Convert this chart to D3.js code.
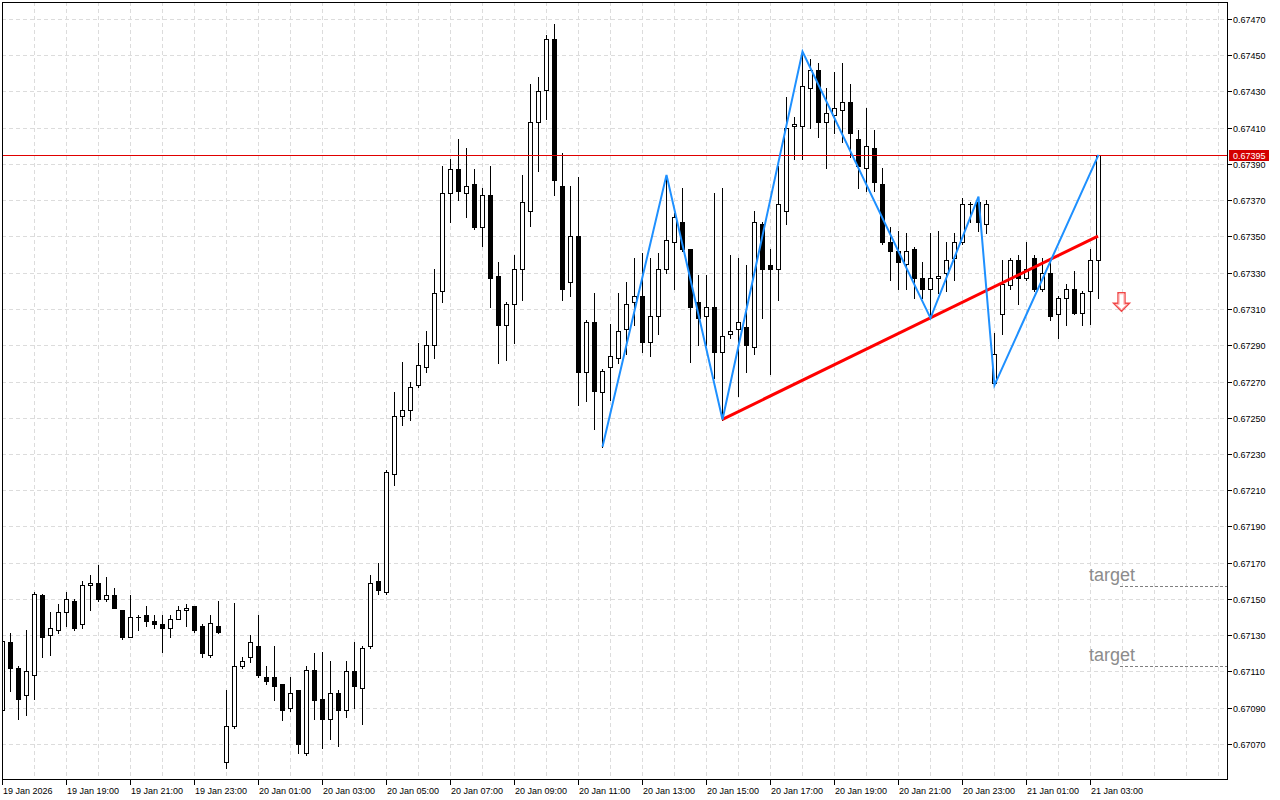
<!DOCTYPE html>
<html><head><meta charset="utf-8">
<script src="https://cdn.jsdelivr.net/npm/d3@7"></script>
<style>html,body{margin:0;padding:0;background:#fff;} svg{display:block;}</style>
</head><body>
<svg id="chart" width="1280" height="800"></svg>
<script>
// ---- data (15-minute bars, bar 0 = 19 Jan 17:00) ----
const openP = [
0.67089,0.67126,0.67112,0.67097,0.67108,0.67152,0.67130,0.67133,0.67143,0.67149,
0.67136,0.67158,0.67159,0.67150,0.67152,0.67144,0.67129,0.67140,0.67141,0.67138,
0.67136,0.67134,0.67139,0.67144,0.67146,0.67135,0.67119,0.67135,0.67060,0.67080,
0.67113,0.67118,0.67124,0.67107,0.67107,0.67103,0.67090,0.67100,0.67065,0.67111,
0.67095,0.67084,0.67098,0.67089,0.67110,0.67101,0.67124,0.67160,0.67154,0.67219,
0.67251,0.67254,0.67268,0.67278,0.67290,0.67320,0.67374,0.67387,0.67374,0.67379,
0.67355,0.67373,0.67328,0.67301,0.67313,0.67332,0.67364,0.67413,0.67431,0.67459,
0.67378,0.67325,0.67350,0.67275,0.67303,0.67264,0.67278,0.67283,0.67299,0.67314,
0.67317,0.67292,0.67306,0.67332,0.67347,0.67358,0.67343,0.67314,0.67306,0.67311,
0.67286,0.67296,0.67299,0.67300,0.67289,0.67357,0.67334,0.67332,0.67364,0.67411,
0.67411,0.67432,0.67442,0.67413,0.67417,0.67420,0.67424,0.67404,0.67388,0.67399,
0.67379,0.67347,0.67342,0.67335,0.67343,0.67327,0.67321,0.67327,0.67330,0.67338,
0.67347,0.67368,0.67369,0.67357,0.67269,0.67307,0.67323,0.67337,0.67327,0.67338,
0.67321,0.67330,0.67307,0.67316,0.67321,0.67308,0.67320,0.67337];
const highP = [
0.67130,0.67131,0.67113,0.67133,0.67154,0.67153,0.67143,0.67147,0.67154,0.67150,
0.67160,0.67163,0.67169,0.67162,0.67156,0.67144,0.67152,0.67141,0.67146,0.67141,
0.67141,0.67141,0.67146,0.67147,0.67146,0.67136,0.67141,0.67149,0.67100,0.67148,
0.67118,0.67130,0.67141,0.67113,0.67124,0.67103,0.67107,0.67100,0.67113,0.67120,
0.67121,0.67116,0.67100,0.67116,0.67126,0.67124,0.67163,0.67170,0.67221,0.67264,
0.67281,0.67270,0.67291,0.67298,0.67332,0.67389,0.67393,0.67404,0.67399,0.67387,
0.67377,0.67389,0.67336,0.67314,0.67340,0.67384,0.67434,0.67438,0.67461,0.67467,
0.67396,0.67378,0.67383,0.67304,0.67319,0.67277,0.67302,0.67319,0.67325,0.67338,
0.67341,0.67338,0.67341,0.67384,0.67363,0.67377,0.67343,0.67329,0.67329,0.67374,
0.67377,0.67340,0.67338,0.67334,0.67364,0.67358,0.67343,0.67389,0.67427,0.67416,
0.67452,0.67448,0.67446,0.67432,0.67441,0.67446,0.67434,0.67409,0.67421,0.67409,
0.67388,0.67355,0.67353,0.67352,0.67344,0.67336,0.67352,0.67353,0.67347,0.67352,
0.67371,0.67369,0.67372,0.67370,0.67297,0.67337,0.67338,0.67340,0.67347,0.67340,
0.67338,0.67338,0.67317,0.67324,0.67331,0.67320,0.67343,0.67395];
const lowP = [
0.67088,0.67099,0.67084,0.67086,0.67095,0.67118,0.67119,0.67131,0.67135,0.67133,
0.67134,0.67144,0.67149,0.67149,0.67145,0.67128,0.67129,0.67133,0.67135,0.67134,
0.67121,0.67129,0.67139,0.67135,0.67132,0.67118,0.67118,0.67131,0.67057,0.67079,
0.67112,0.67115,0.67107,0.67103,0.67094,0.67083,0.67088,0.67065,0.67064,0.67084,
0.67068,0.67073,0.67069,0.67085,0.67090,0.67081,0.67123,0.67153,0.67153,0.67213,
0.67246,0.67249,0.67267,0.67275,0.67283,0.67314,0.67358,0.67370,0.67361,0.67354,
0.67345,0.67311,0.67280,0.67282,0.67291,0.67315,0.67356,0.67386,0.67415,0.67373,
0.67315,0.67317,0.67257,0.67259,0.67244,0.67234,0.67260,0.67280,0.67285,0.67301,
0.67286,0.67284,0.67296,0.67330,0.67321,0.67342,0.67281,0.67290,0.67290,0.67272,
0.67249,0.67294,0.67262,0.67275,0.67285,0.67305,0.67274,0.67315,0.67357,0.67393,
0.67393,0.67410,0.67405,0.67388,0.67407,0.67402,0.67394,0.67377,0.67375,0.67375,
0.67346,0.67326,0.67321,0.67321,0.67316,0.67316,0.67305,0.67319,0.67320,0.67326,
0.67346,0.67358,0.67353,0.67352,0.67268,0.67296,0.67321,0.67313,0.67326,0.67320,
0.67320,0.67304,0.67294,0.67301,0.67307,0.67301,0.67302,0.67316];
const closeP = [
0.67127,0.67112,0.67095,0.67110,0.67153,0.67129,0.67134,0.67143,0.67150,0.67134,
0.67158,0.67159,0.67150,0.67152,0.67145,0.67129,0.67140,0.67140,0.67138,0.67136,
0.67134,0.67139,0.67144,0.67145,0.67133,0.67120,0.67137,0.67132,0.67080,0.67113,
0.67116,0.67126,0.67108,0.67105,0.67102,0.67089,0.67098,0.67070,0.67111,0.67094,
0.67084,0.67098,0.67089,0.67110,0.67102,0.67123,0.67159,0.67155,0.67220,0.67251,
0.67254,0.67267,0.67279,0.67290,0.67319,0.67374,0.67387,0.67375,0.67378,0.67355,
0.67373,0.67327,0.67301,0.67313,0.67332,0.67369,0.67413,0.67430,0.67459,0.67381,
0.67321,0.67350,0.67275,0.67303,0.67265,0.67276,0.67284,0.67298,0.67313,0.67317,
0.67292,0.67306,0.67332,0.67348,0.67361,0.67343,0.67311,0.67305,0.67311,0.67286,
0.67295,0.67298,0.67303,0.67290,0.67358,0.67332,0.67332,0.67368,0.67410,0.67412,
0.67433,0.67442,0.67413,0.67418,0.67421,0.67424,0.67407,0.67389,0.67400,0.67380,
0.67347,0.67342,0.67336,0.67342,0.67327,0.67321,0.67327,0.67328,0.67337,0.67347,
0.67368,0.67368,0.67358,0.67368,0.67285,0.67324,0.67337,0.67327,0.67332,0.67321,
0.67330,0.67306,0.67316,0.67321,0.67308,0.67319,0.67337,0.67395];

const xTickLabels = ["19 Jan 2026","19 Jan 19:00","19 Jan 21:00","19 Jan 23:00",
  "20 Jan 01:00","20 Jan 03:00","20 Jan 05:00","20 Jan 07:00","20 Jan 09:00",
  "20 Jan 11:00","20 Jan 13:00","20 Jan 15:00","20 Jan 17:00","20 Jan 19:00",
  "20 Jan 21:00","20 Jan 23:00","21 Jan 01:00","21 Jan 03:00"];
const xTickBars = [0,8,16,24,32,40,48,56,64,72,80,88,96,104,112,120,128,136];
const yTickValues = [0.67070,0.67090,0.67110,0.67130,0.67150,0.67170,0.67190,0.67210,
  0.67230,0.67250,0.67270,0.67290,0.67310,0.67330,0.67350,0.67370,0.67390,0.67410,
  0.67430,0.67450,0.67470];

const zigzagBars   = [75, 83, 90, 100, 116, 122, 124, 137];
const zigzagPrices = [0.67234,0.67384,0.67249,0.67452,0.67305,0.67372,0.67268,0.67395];

const trendBars   = [90, 116];
const trendPrices = [0.67249, 0.67305];
const trendEndBar = 137;

const currentPrice = 0.67395;
const targetPrices = [0.67157, 0.67113];
const targetLabels = ["target", "target"];
const targetTextBar = 136, targetLineBar = 139.75;
const arrowBar = 140, arrowPrice = 0.67319;

// ---- layout ----
const L = 2, T = 2, R = 1227, B = 779;
const x = d3.scaleLinear().domain([0, 153]).range([2, 1226]);
const y = d3.scaleLinear().domain([0.67070, 0.67470]).range([744, 19]);
const py = v => Math.round(y(v)) + 0.5;
const px = k => Math.round(x(k)) + 0.5;

const svg = d3.select("#chart");
const FONT = "'Liberation Sans', Arial, sans-serif";

svg.append("defs").append("clipPath").attr("id","plotclip")
  .append("rect").attr("x", L).attr("y", T).attr("width", R - L).attr("height", B - T);

// grid
const grid = svg.append("g").attr("stroke", "#dcdcdc").attr("stroke-dasharray", "4,3")
  .attr("shape-rendering","crispEdges");
const vBars = d3.range(4, 153, 4);
grid.selectAll("line.v").data(vBars).enter().append("line")
  .attr("x1", d => px(d)).attr("x2", d => px(d)).attr("y1", T).attr("y2", B);
grid.selectAll("line.h").data(yTickValues).enter().append("line")
  .attr("x1", L).attr("x2", R).attr("y1", d => py(d)).attr("y2", d => py(d));

const plot = svg.append("g").attr("clip-path", "url(#plotclip)");

// candles
const bars = d3.range(openP.length);
const cg = plot.append("g").attr("shape-rendering","crispEdges");
cg.selectAll("line.wick").data(bars).enter().append("line")
  .attr("x1", k => px(k)).attr("x2", k => px(k))
  .attr("y1", k => Math.round(y(highP[k]))).attr("y2", k => Math.round(y(lowP[k])) + 1)
  .attr("stroke", "#000").attr("stroke-width", 1);
bars.forEach(k => {
  const o = openP[k], c = closeP[k];
  const top = Math.round(y(Math.max(o, c))), bot = Math.round(y(Math.min(o, c)));
  const cx = Math.round(x(k));
  if (bot - top < 1) {
    cg.append("line").attr("x1", cx - 2).attr("x2", cx + 3)
      .attr("y1", top + 0.5).attr("y2", top + 0.5).attr("stroke", "#000");
  } else {
    cg.append("rect").attr("x", cx - 1.5).attr("y", top + 0.5)
      .attr("width", 4).attr("height", bot - top)
      .attr("fill", c >= o ? "#fff" : "#000").attr("stroke", "#000").attr("stroke-width", 1);
  }
});

// current price line
plot.append("line").attr("x1", L).attr("x2", R)
  .attr("y1", py(currentPrice)).attr("y2", py(currentPrice))
  .attr("stroke", "#e00000").attr("stroke-width", 1).attr("shape-rendering","crispEdges");

// trend line (extended)
const slope = (trendPrices[1] - trendPrices[0]) / (trendBars[1] - trendBars[0]);
const trendEndPrice = trendPrices[0] + slope * (trendEndBar - trendBars[0]);
plot.append("line")
  .attr("x1", x(trendBars[0])).attr("y1", y(trendPrices[0]))
  .attr("x2", x(trendEndBar)).attr("y2", y(trendEndPrice))
  .attr("stroke", "#ff0000").attr("stroke-width", 3);

// zigzag
plot.append("path")
  .datum(d3.zip(zigzagBars, zigzagPrices))
  .attr("d", d3.line().x(d => x(d[0]) + 0.5).y(d => y(d[1])))
  .attr("fill", "none").attr("stroke", "#1e90ff").attr("stroke-width", 2);

// targets
targetPrices.forEach((p, i) => {
  plot.append("line").attr("x1", x(targetLineBar)).attr("x2", R)
    .attr("y1", py(p)).attr("y2", py(p))
    .attr("stroke", "#808080").attr("stroke-dasharray", "3,2").attr("shape-rendering","crispEdges");
  plot.append("text").attr("x", x(targetTextBar) - 1).attr("y", y(p) - 5)
    .attr("font-family", FONT).attr("font-size", 18).attr("fill", "#8c8c8c")
    .text(targetLabels[i]);
});

// sell arrow
{
  const cx = x(arrowBar) - 0.5, t = y(arrowPrice);
  const pts = [[cx-3.5,t],[cx+3.5,t],[cx+3.5,t+10.5],[cx+8,t+10.5],[cx,t+18.5],[cx-8,t+10.5],[cx-3.5,t+10.5]];
  plot.append("path").attr("d", d3.line()(pts) + "Z")
    .attr("fill", "#fff").attr("stroke", "#f04545").attr("stroke-width", 1.4)
    .attr("stroke-linejoin","miter");
  const inner = [[cx-2.3,t+1.2],[cx+2.3,t+1.2],[cx+2.3,t+11.7],[cx+5.3,t+11.7],[cx,t+16.8],[cx-5.3,t+11.7],[cx-2.3,t+11.7]];
  plot.append("path").attr("d", d3.line()(inner) + "Z")
    .attr("fill", "none").attr("stroke", "#ffb8b8").attr("stroke-width", 1);
}

// frame
svg.append("rect").attr("x", L + 0.5).attr("y", T + 0.5).attr("width", R - L).attr("height", B - T)
  .attr("fill", "none").attr("stroke", "#000").attr("shape-rendering","crispEdges");

// y axis
const ya = svg.append("g");
yTickValues.forEach(v => {
  ya.append("line").attr("x1", R + 1).attr("x2", R + 5).attr("y1", py(v)).attr("y2", py(v))
    .attr("stroke", "#000").attr("shape-rendering","crispEdges");
  ya.append("text").attr("x", R + 6).attr("y", py(v) + 3.5)
    .attr("font-family", FONT).attr("font-size", 9).attr("fill", "#000")
    .text(d3.format(".5f")(v));
});
// current price label
ya.append("rect").attr("x", R + 2).attr("y", Math.round(y(currentPrice)) - 5)
  .attr("width", 40).attr("height", 11).attr("fill", "#d40000");
ya.append("text").attr("x", R + 6).attr("y", py(currentPrice) + 3.5)
  .attr("font-family", FONT).attr("font-size", 9).attr("fill", "#fff")
  .text(d3.format(".5f")(currentPrice));

// x axis
const xa = svg.append("g");
xTickBars.forEach((b, i) => {
  xa.append("line").attr("x1", px(b)).attr("x2", px(b)).attr("y1", B + 1).attr("y2", B + 6)
    .attr("stroke", "#000").attr("shape-rendering","crispEdges");
  xa.append("text").attr("x", Math.round(x(b)) + 1).attr("y", B + 15)
    .attr("font-family", FONT).attr("font-size", 9).attr("fill", "#000")
    .text(xTickLabels[i]);
});
</script>
</body></html>
